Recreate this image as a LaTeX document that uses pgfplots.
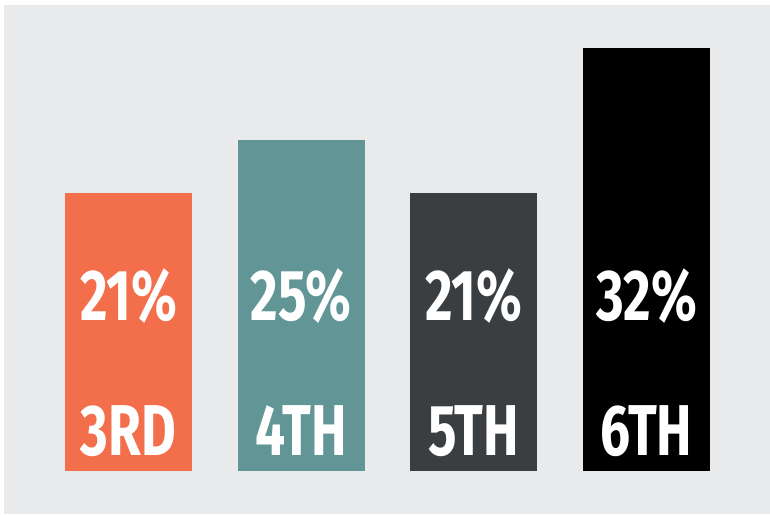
\documentclass[border=0pt]{standalone}
\usepackage{pgfplots}
\pgfplotsset{compat=1.18}
\usepackage{fontspec}
\setmainfont{Fira Sans}
\newfontfamily\labfont[FakeStretch=0.74]{Fira Sans}
\definecolor{bgc}{HTML}{E9EAEC}
\definecolor{c1}{HTML}{F36F4B}
\definecolor{c2}{HTML}{629696}
\definecolor{c3}{HTML}{3B3E41}
\definecolor{c4}{HTML}{000000}
\tikzset{lab/.style={text=white, font={\labfont\bfseries\fontsize{72}{72}\selectfont}, anchor=center, inner sep=0pt}}
\begin{document}
\begin{tikzpicture}
\fill[white] (0,0) rectangle (770pt,514pt);
\fill[bgc] (4pt,0) rectangle (770pt,509pt);
\begin{axis}[
  at={(0,0)}, anchor=south west,
  scale only axis, width=770pt, height=514pt,
  hide axis,
  xmin=-0.744, xmax=3.715,
  ymin=-3.25, ymax=35.62,
  ybar, bar width=0.7355, bar shift=0pt,
  clip=false,
]
\addplot[fill=c1, draw=none] coordinates {(0,21)};
\addplot[fill=c2, draw=none] coordinates {(1,25)};
\addplot[fill=c3, draw=none] coordinates {(2,21)};
\addplot[fill=c4, draw=none] coordinates {(3,32)};
\node[lab] at (axis cs:0,13.2) {21\%};
\node[lab] at (axis cs:1,13.2) {25\%};
\node[lab] at (axis cs:2,13.2) {21\%};
\node[lab] at (axis cs:3,13.2) {32\%};
\node[lab] at (axis cs:0,3.05) {3RD};
\node[lab] at (axis cs:1,3.05) {4TH};
\node[lab] at (axis cs:2,3.05) {5TH};
\node[lab] at (axis cs:3,3.05) {6TH};
\end{axis}
\end{tikzpicture}
\end{document}
